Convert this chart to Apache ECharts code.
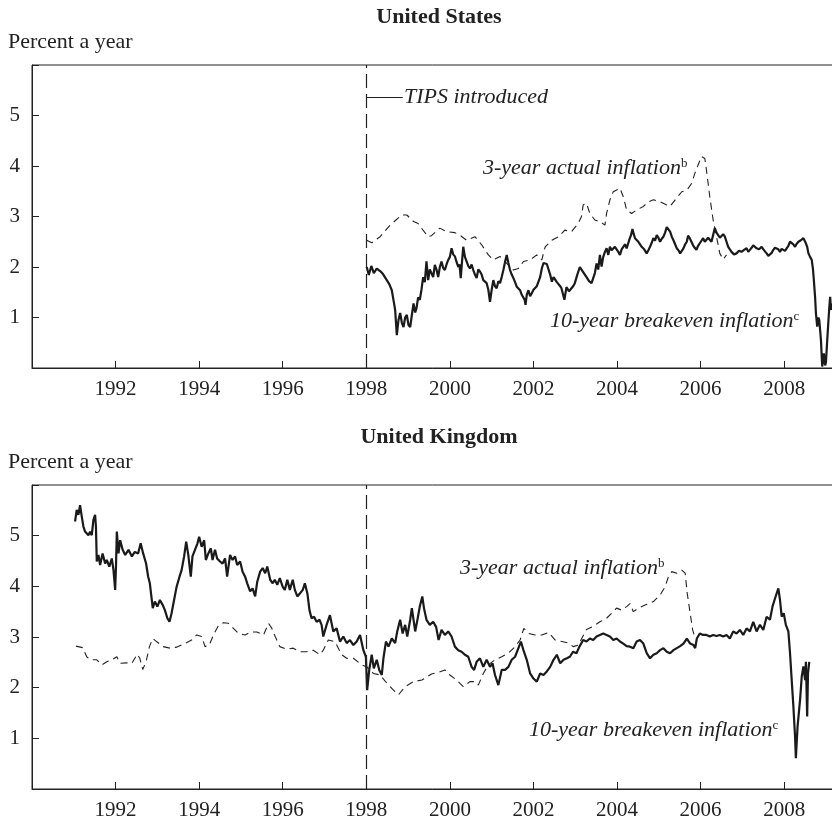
<!DOCTYPE html>
<html>
<head>
<meta charset="utf-8">
<script src="https://cdn.jsdelivr.net/npm/echarts@6/dist/echarts.min.js"></script>
<style>
    html, body { margin: 0; padding: 0; background: #fff; }
    #chart { width: 832px; height: 819px; }
</style>
</head>
<body>
<div id="chart"></div>
<script>
// tick labels
let tickYears = [1992, 1994, 1996, 1998, 2000, 2002, 2004, 2006, 2008];
let tickPercents = [1, 2, 3, 4, 5];
let tipsYear = 1998;

// United States, 10-year breakeven inflation (daily)
let usBreakeven = [
    [1998.01,2.00],[1998.06,1.84],[1998.12,2.02],[1998.18,1.88],[1998.25,1.97],[1998.33,1.92],[1998.40,1.86],
    [1998.49,1.74],[1998.55,1.66],[1998.61,1.54],[1998.66,1.30],[1998.69,1.15],[1998.73,0.65],[1998.77,0.95],
    [1998.81,1.09],[1998.85,0.90],[1998.89,0.81],[1998.93,1.00],[1998.97,1.05],[1999.01,0.85],[1999.05,0.81],
    [1999.09,1.05],[1999.13,1.28],[1999.17,1.10],[1999.20,1.18],[1999.24,1.40],[1999.28,1.35],[1999.32,1.55],
    [1999.36,1.80],[1999.40,1.70],[1999.44,2.11],[1999.48,1.74],[1999.52,1.95],[1999.56,1.94],[1999.60,1.80],
    [1999.64,2.04],[1999.68,1.95],[1999.72,1.80],[1999.76,2.00],[1999.80,2.11],[1999.84,1.98],[1999.88,1.94],
    [1999.92,2.05],[1999.96,2.14],[2000.00,2.20],[2000.04,2.37],[2000.08,2.25],[2000.12,2.21],[2000.16,2.10],
    [2000.20,2.00],[2000.23,2.05],[2000.26,1.78],[2000.29,2.10],[2000.32,2.40],[2000.36,2.20],[2000.40,2.11],
    [2000.44,2.02],[2000.48,1.97],[2000.52,2.05],[2000.56,1.94],[2000.60,1.85],[2000.64,1.78],[2000.68,1.95],
    [2000.72,1.91],[2000.76,1.85],[2000.80,1.74],[2000.84,1.75],[2000.88,1.68],[2000.92,1.55],[2000.96,1.31],
    [2001.00,1.55],[2001.04,1.74],[2001.08,1.62],[2001.12,1.58],[2001.16,1.72],[2001.20,1.68],[2001.24,1.80],
    [2001.28,1.94],[2001.32,2.10],[2001.36,2.24],[2001.40,2.08],[2001.44,1.94],[2001.48,1.85],[2001.52,1.78],
    [2001.56,1.70],[2001.60,1.61],[2001.64,1.58],[2001.68,1.54],[2001.72,1.45],[2001.76,1.48],[2001.79,1.35],
    [2001.81,1.25],[2001.84,1.45],[2001.88,1.54],[2001.92,1.42],[2001.96,1.48],[2002.00,1.55],[2002.04,1.58],
    [2002.08,1.62],[2002.12,1.64],[2002.16,1.80],[2002.20,1.97],[2002.24,2.08],[2002.28,2.11],[2002.32,2.06],
    [2002.36,2.04],[2002.40,1.85],[2002.44,1.71],[2002.48,1.80],[2002.52,1.78],[2002.56,1.70],[2002.60,1.68],
    [2002.64,1.62],[2002.67,1.58],[2002.71,1.45],[2002.74,1.35],[2002.79,1.60],[2002.85,1.52],[2002.91,1.58],
    [2002.95,1.62],[2002.99,1.68],[2003.05,1.85],[2003.11,2.00],[2003.15,1.95],[2003.19,1.90],[2003.23,1.85],
    [2003.27,1.80],[2003.33,1.72],[2003.39,1.68],[2003.43,1.71],[2003.47,1.88],[2003.51,2.07],[2003.55,1.95],
    [2003.59,2.24],[2003.63,2.01],[2003.67,2.20],[2003.71,2.30],[2003.75,2.37],[2003.79,2.24],[2003.83,2.40],
    [2003.87,2.33],[2003.91,2.30],[2003.95,2.40],[2003.99,2.37],[2004.03,2.30],[2004.07,2.24],[2004.11,2.35],
    [2004.15,2.40],[2004.19,2.45],[2004.23,2.37],[2004.29,2.53],[2004.33,2.62],[2004.37,2.75],[2004.40,2.65],
    [2004.43,2.57],[2004.47,2.55],[2004.51,2.50],[2004.55,2.45],[2004.59,2.40],[2004.65,2.35],[2004.71,2.27],
    [2004.75,2.33],[2004.79,2.40],[2004.83,2.48],[2004.87,2.57],[2004.91,2.52],[2004.95,2.63],[2004.99,2.58],
    [2005.03,2.50],[2005.07,2.56],[2005.11,2.60],[2005.15,2.68],[2005.19,2.79],[2005.23,2.76],[2005.27,2.70],
    [2005.31,2.60],[2005.35,2.53],[2005.39,2.45],[2005.43,2.37],[2005.47,2.33],[2005.51,2.27],[2005.55,2.32],
    [2005.59,2.37],[2005.63,2.45],[2005.67,2.50],[2005.70,2.62],[2005.74,2.57],[2005.78,2.50],[2005.82,2.43],
    [2005.86,2.38],[2005.90,2.34],[2005.94,2.42],[2005.98,2.47],[2006.02,2.52],[2006.06,2.57],[2006.10,2.50],
    [2006.14,2.53],[2006.18,2.58],[2006.22,2.60],[2006.26,2.50],[2006.29,2.53],[2006.34,2.77],[2006.38,2.68],
    [2006.42,2.63],[2006.46,2.58],[2006.50,2.60],[2006.54,2.65],[2006.58,2.60],[2006.62,2.50],[2006.66,2.40],
    [2006.70,2.35],[2006.74,2.30],[2006.80,2.25],[2006.86,2.27],[2006.92,2.32],[2006.98,2.30],[2007.04,2.34],
    [2007.10,2.37],[2007.14,2.30],[2007.18,2.34],[2007.22,2.38],[2007.26,2.43],[2007.30,2.40],[2007.34,2.37],
    [2007.40,2.35],[2007.46,2.40],[2007.52,2.33],[2007.58,2.27],[2007.62,2.22],[2007.66,2.20],[2007.70,2.28],
    [2007.74,2.34],[2007.78,2.38],[2007.82,2.40],[2007.86,2.35],[2007.90,2.30],[2007.94,2.36],[2007.98,2.37],
    [2008.02,2.32],[2008.06,2.30],[2008.10,2.42],[2008.14,2.50],[2008.18,2.53],[2008.22,2.45],[2008.26,2.40],
    [2008.30,2.46],[2008.34,2.50],[2008.40,2.53],[2008.46,2.57],[2008.52,2.47],[2008.55,2.40],[2008.58,2.27],
    [2008.62,2.20],[2008.66,2.14],[2008.69,1.95],[2008.71,1.74],[2008.74,1.40],[2008.76,1.08],[2008.79,0.82],
    [2008.82,1.00],[2008.84,0.95],[2008.86,0.75],[2008.88,0.55],[2008.90,0.20],[2008.91,0.03],[2008.93,0.15],
    [2008.95,0.29],[2008.98,0.05],[2009.00,0.12],[2009.03,0.55],[2009.06,0.95],[2009.08,1.20],[2009.10,1.41],
    [2009.12,1.15],[2009.14,1.28]
];

// United States, 3-year actual inflation
let usActual = [
    [1998.01,2.53],[1998.13,2.48],[1998.33,2.60],[1998.57,2.83],[1998.85,3.03],[1998.97,3.03],[1999.13,2.90],
    [1999.24,2.86],[1999.32,2.77],[1999.48,2.60],[1999.56,2.62],[1999.76,2.77],[1999.92,2.70],[2000.12,2.68],
    [2000.24,2.63],[2000.40,2.53],[2000.60,2.60],[2000.76,2.44],[2000.92,2.24],[2001.04,2.14],[2001.20,2.21],
    [2001.36,2.07],[2001.52,1.94],[2001.64,1.97],[2001.76,2.11],[2001.92,2.14],[2002.08,2.24],[2002.20,2.14],
    [2002.28,2.40],[2002.44,2.53],[2002.60,2.60],[2002.75,2.73],[2002.91,2.70],[2003.07,2.86],[2003.15,3.00],
    [2003.19,3.23],[2003.27,3.26],[2003.35,3.06],[2003.47,2.93],[2003.59,2.90],[2003.71,2.83],[2003.75,3.06],
    [2003.83,3.33],[2003.91,3.49],[2004.07,3.56],[2004.15,3.39],[2004.23,3.13],[2004.35,3.06],[2004.47,3.13],
    [2004.63,3.20],[2004.75,3.29],[2004.87,3.33],[2005.03,3.29],[2005.19,3.23],[2005.27,3.20],[2005.39,3.33],
    [2005.55,3.49],[2005.67,3.52],[2005.79,3.66],[2005.86,3.85],[2005.94,4.02],[2006.02,4.19],[2006.10,4.15],
    [2006.14,3.92],[2006.22,3.39],[2006.30,2.93],[2006.38,2.60],[2006.46,2.27],[2006.54,2.15],[2006.62,2.24]
];

// United Kingdom, 10-year breakeven inflation
let ukBreakeven = [
    [1991.03,5.28],[1991.07,5.51],[1991.11,5.41],[1991.15,5.60],[1991.19,5.38],[1991.23,5.18],[1991.27,5.08],
    [1991.31,5.11],[1991.35,5.01],[1991.39,5.08],[1991.43,5.01],[1991.47,5.31],[1991.51,5.41],[1991.53,5.18],
    [1991.55,4.49],[1991.59,4.62],[1991.63,4.42],[1991.69,4.65],[1991.75,4.45],[1991.79,4.52],[1991.85,4.39],
    [1991.91,4.55],[1991.95,4.32],[1991.99,3.93],[1992.01,4.39],[1992.03,5.08],[1992.07,4.65],[1992.11,4.91],
    [1992.17,4.72],[1992.23,4.62],[1992.31,4.72],[1992.39,4.59],[1992.46,4.68],[1992.54,4.65],[1992.60,4.85],
    [1992.66,4.65],[1992.73,4.45],[1992.78,4.19],[1992.82,4.06],[1992.89,3.57],[1992.94,3.70],[1993.00,3.60],
    [1993.06,3.73],[1993.13,3.63],[1993.18,3.53],[1993.24,3.37],[1993.29,3.30],[1993.34,3.47],[1993.40,3.73],
    [1993.46,3.99],[1993.53,4.19],[1993.58,4.32],[1993.64,4.59],[1993.69,4.88],[1993.74,4.62],[1993.80,4.19],
    [1993.84,4.59],[1993.90,4.72],[1993.96,4.85],[1994.00,4.98],[1994.06,4.78],[1994.12,4.91],[1994.16,4.52],
    [1994.22,4.65],[1994.28,4.75],[1994.32,4.52],[1994.38,4.72],[1994.43,4.55],[1994.50,4.49],[1994.56,4.45],
    [1994.62,4.55],[1994.67,4.19],[1994.74,4.62],[1994.80,4.52],[1994.86,4.59],[1994.91,4.42],[1994.98,4.49],
    [1995.04,4.29],[1995.10,4.19],[1995.15,4.06],[1995.22,3.90],[1995.28,3.96],[1995.34,3.80],[1995.39,4.09],
    [1995.46,4.29],[1995.52,4.36],[1995.58,4.26],[1995.63,4.39],[1995.70,4.13],[1995.76,4.06],[1995.81,4.13],
    [1995.87,4.03],[1995.93,4.16],[1996.00,3.99],[1996.05,3.93],[1996.11,4.13],[1996.17,3.93],[1996.24,4.13],
    [1996.29,3.93],[1996.35,3.80],[1996.41,3.86],[1996.48,3.93],[1996.53,4.06],[1996.59,3.86],[1996.64,3.53],
    [1996.69,3.37],[1996.75,3.40],[1996.81,3.30],[1996.88,3.34],[1996.93,3.24],[1996.97,3.01],[1997.05,3.24],
    [1997.13,3.43],[1997.21,3.11],[1997.29,3.17],[1997.37,2.91],[1997.45,3.01],[1997.53,2.88],[1997.61,2.94],
    [1997.69,2.84],[1997.77,2.91],[1997.85,3.04],[1997.93,2.74],[1997.99,2.61],[1998.02,1.95],[1998.07,2.35],
    [1998.13,2.65],[1998.18,2.38],[1998.25,2.55],[1998.31,2.35],[1998.37,2.25],[1998.41,2.58],[1998.47,2.91],
    [1998.53,2.81],[1998.61,2.97],[1998.69,2.88],[1998.74,3.11],[1998.81,3.34],[1998.87,3.07],[1998.93,3.24],
    [1998.98,3.01],[1999.05,3.34],[1999.09,3.57],[1999.17,3.11],[1999.23,3.37],[1999.28,3.60],[1999.34,3.80],
    [1999.38,3.57],[1999.44,3.34],[1999.52,3.24],[1999.60,3.30],[1999.67,3.20],[1999.73,2.94],[1999.80,3.14],
    [1999.88,3.04],[1999.96,3.11],[2000.04,3.01],[2000.12,2.81],[2000.20,2.74],[2000.28,2.71],[2000.36,2.65],
    [2000.44,2.61],[2000.52,2.41],[2000.58,2.35],[2000.64,2.51],[2000.72,2.58],[2000.80,2.41],[2000.88,2.55],
    [2000.96,2.41],[2001.02,2.48],[2001.08,2.25],[2001.16,2.05],[2001.24,2.35],[2001.32,2.35],[2001.40,2.41],
    [2001.48,2.55],[2001.56,2.61],[2001.64,2.78],[2001.70,2.91],[2001.76,2.74],[2001.84,2.55],[2001.92,2.28],
    [2002.00,2.18],[2002.08,2.12],[2002.16,2.28],[2002.24,2.25],[2002.32,2.32],[2002.40,2.41],[2002.48,2.55],
    [2002.56,2.65],[2002.64,2.48],[2002.72,2.55],[2002.80,2.58],[2002.87,2.61],[2002.95,2.71],[2003.03,2.68],
    [2003.10,2.81],[2003.19,2.94],[2003.27,2.91],[2003.35,2.97],[2003.43,2.94],[2003.51,3.01],[2003.59,3.04],
    [2003.67,3.07],[2003.75,3.04],[2003.83,3.01],[2003.91,2.94],[2003.99,2.97],[2004.07,2.91],[2004.15,2.87],
    [2004.23,2.82],[2004.31,2.81],[2004.39,2.78],[2004.47,2.91],[2004.55,2.94],[2004.63,2.87],[2004.71,2.68],
    [2004.79,2.58],[2004.87,2.65],[2004.95,2.68],[2005.03,2.74],[2005.11,2.78],[2005.19,2.71],[2005.27,2.68],
    [2005.35,2.74],[2005.43,2.78],[2005.51,2.82],[2005.59,2.87],[2005.67,2.97],[2005.75,2.87],[2005.83,2.84],
    [2005.87,2.78],[2005.91,2.97],[2005.98,3.07],[2006.06,3.04],[2006.14,3.04],[2006.22,3.01],[2006.30,3.04],
    [2006.38,3.02],[2006.46,3.04],[2006.54,3.01],[2006.62,3.04],[2006.70,2.97],[2006.78,3.11],[2006.86,3.07],
    [2006.94,3.14],[2007.02,3.04],[2007.10,3.17],[2007.18,3.11],[2007.26,3.30],[2007.34,3.11],[2007.42,3.24],
    [2007.50,3.14],[2007.58,3.40],[2007.66,3.34],[2007.72,3.60],[2007.78,3.76],[2007.86,3.96],[2007.90,3.73],
    [2007.94,3.40],[2007.99,3.47],[2008.04,3.24],[2008.10,3.11],[2008.14,2.68],[2008.18,2.15],[2008.22,1.63],
    [2008.26,1.03],[2008.28,0.61],[2008.32,1.23],[2008.38,1.76],[2008.42,2.22],[2008.46,2.42],[2008.50,2.15],
    [2008.52,2.51],[2008.55,1.43],[2008.57,2.28],[2008.60,2.51]
];

// United Kingdom, 3-year actual inflation
let ukActual = [
    [1991.05,2.82],[1991.21,2.79],[1991.31,2.61],[1991.40,2.55],[1991.55,2.55],[1991.67,2.45],[1991.79,2.51],
    [1991.91,2.55],[1992.03,2.61],[1992.11,2.48],[1992.27,2.49],[1992.39,2.48],[1992.52,2.66],[1992.58,2.58],
    [1992.65,2.36],[1992.73,2.51],[1992.81,2.81],[1992.89,2.97],[1992.98,2.91],[1993.14,2.81],[1993.30,2.78],
    [1993.46,2.80],[1993.66,2.87],[1993.82,2.94],[1993.94,3.04],[1994.06,3.01],[1994.14,2.81],[1994.24,2.84],
    [1994.36,3.07],[1994.46,3.22],[1994.58,3.28],[1994.70,3.27],[1994.82,3.17],[1994.94,3.07],[1995.10,3.04],
    [1995.23,3.10],[1995.38,3.10],[1995.54,3.04],[1995.66,3.27],[1995.74,3.17],[1995.82,3.01],[1995.93,2.81],
    [1996.09,2.76],[1996.25,2.78],[1996.41,2.71],[1996.57,2.71],[1996.73,2.74],[1996.89,2.65],[1996.97,2.74],
    [1997.09,2.94],[1997.25,2.91],[1997.41,2.65],[1997.53,2.58],[1997.69,2.58],[1997.89,2.45],[1998.01,2.41],
    [1998.17,2.28],[1998.33,2.25],[1998.49,2.09],[1998.65,1.95],[1998.77,1.86],[1998.93,2.02],[1999.13,2.12],
    [1999.33,2.15],[1999.56,2.27],[1999.72,2.30],[1999.88,2.35],[2000.00,2.25],[2000.16,2.15],[2000.32,2.02],
    [2000.48,2.12],[2000.60,2.12],[2000.68,2.05],[2000.80,2.28],[2000.92,2.45],[2001.08,2.55],[2001.24,2.61],
    [2001.40,2.68],[2001.56,2.81],[2001.68,2.94],[2001.77,3.17],[2001.88,3.07],[2002.04,3.04],[2002.20,3.04],
    [2002.36,3.09],[2002.52,2.94],[2002.68,2.91],[2002.84,2.88],[2002.95,2.81],[2003.07,2.84],[2003.27,3.15],
    [2003.43,3.21],[2003.59,3.30],[2003.75,3.37],[2003.87,3.47],[2003.99,3.57],[2004.11,3.53],[2004.23,3.60],
    [2004.31,3.66],[2004.39,3.50],[2004.51,3.57],[2004.67,3.63],[2004.87,3.70],[2005.03,3.83],[2005.15,3.99],
    [2005.23,4.19],[2005.31,4.29],[2005.43,4.26],[2005.55,4.32],[2005.63,4.26],[2005.68,3.86],[2005.75,3.47],
    [2005.81,3.14],[2005.87,2.97]
];

let serif = '"Liberation Serif", "DejaVu Serif", serif';
let ink = '#222';

let make_axes = function (gridIndex) {
    let xAxis = {
        type: 'value',
        gridIndex: gridIndex,
        min: 1990,
        max: 2009.24,
        interval: 2,
        axisLine: {lineStyle: {color: ink, width: 1}},
        axisTick: {inside: true, length: 7, lineStyle: {color: ink}},
        splitLine: {show: false},
        axisLabel: {
            showMinLabel: false,
            margin: 11,
            fontFamily: serif,
            fontSize: 21,
            color: ink,
            formatter: function (v) {
                return tickYears.indexOf(v) >= 0 ? String(v) : '';
            }
        }
    };
    let yAxis = {
        type: 'value',
        gridIndex: gridIndex,
        min: 0,
        max: 6,
        interval: 1,
        axisLine: {show: true, lineStyle: {color: ink, width: 1}},
        axisTick: {show: true, inside: true, length: 7, lineStyle: {color: ink}},
        splitLine: {show: false},
        axisLabel: {
            margin: 12,
            fontFamily: serif,
            fontSize: 21,
            color: ink,
            formatter: function (v) {
                return tickPercents.indexOf(v) >= 0 ? String(v) : '';
            }
        }
    };
    return [xAxis, yAxis];
};

let tipsLine = function (withLeader) {
    let data = [{xAxis: tipsYear}];
    if (withLeader) {
        data.push([
            {coord: [tipsYear, 5.37], lineStyle: {type: 'solid', width: 1, color: ink}},
            {coord: [1998.87, 5.37]}
        ]);
    }
    return {
        silent: true,
        symbol: ['none', 'none'],
        label: {show: false},
        lineStyle: {type: [14, 6], width: 1.2, color: ink},
        emphasis: {disabled: true},
        data: data
    };
};

let solid = function (name, idx, data) {
    return {
        name: name, type: 'line', xAxisIndex: idx, yAxisIndex: idx,
        data: data, showSymbol: false, silent: true,
        lineStyle: {color: '#1a1a1a', width: 2.2}
    };
};

let dashed = function (name, idx, data) {
    return {
        name: name, type: 'line', xAxisIndex: idx, yAxisIndex: idx,
        data: data, showSymbol: false, silent: true,
        lineStyle: {color: ink, width: 1.1, type: [7, 5]},
        markLine: tipsLine(idx === 0)
    };
};

let label = function (x, y, main, sup) {
    return {
        type: 'text', x: x, y: y, silent: true,
        style: {
            text: '{m|' + main + '}{s|' + sup + '}',
            verticalAlign: 'middle',
            rich: {
                m: {font: 'italic 22px ' + serif, fill: ink},
                s: {font: '13px ' + serif, fill: ink, verticalAlign: 'top'}
            }
        }
    };
};

let plain = function (x, y, text, font, align) {
    return {
        type: 'text', x: x, y: y, silent: true,
        style: {text: text, font: font, fill: ink, align: align, verticalAlign: 'middle'}
    };
};

let usAxes = make_axes(0);
let ukAxes = make_axes(1);

let chart = echarts.init(document.getElementById('chart'));
let option = {
    animation: false,
    backgroundColor: '#fff',
    grid: [
        {left: 32, right: -4, top: 65, height: 303, show: true, borderColor: ink, borderWidth: 1,
            outerBoundsMode: 'none', containLabel: false},
        {left: 32, right: -4, top: 485, height: 304, show: true, borderColor: ink, borderWidth: 1,
            outerBoundsMode: 'none', containLabel: false}
    ],
    xAxis: [usAxes[0], ukAxes[0]],
    yAxis: [usAxes[1], ukAxes[1]],
    series: [
        dashed('us actual', 0, usActual),
        solid('us breakeven', 0, usBreakeven),
        dashed('uk actual', 1, ukActual),
        solid('uk breakeven', 1, ukBreakeven)
    ],
    graphic: [
        plain(439, 17, 'United States', 'bold 22px ' + serif, 'center'),
        plain(8, 42, 'Percent a year', '22px ' + serif, 'left'),
        plain(439, 437, 'United Kingdom', 'bold 22px ' + serif, 'center'),
        plain(8, 462, 'Percent a year', '22px ' + serif, 'left'),
        plain(404, 97, 'TIPS introduced', 'italic 22px ' + serif, 'left'),
        label(483, 168, '3-year actual inflation', 'b'),
        label(550, 321, '10-year breakeven inflation', 'c'),
        label(460, 568, '3-year actual inflation', 'b'),
        label(529, 730, '10-year breakeven inflation', 'c')
    ]
};
chart.setOption(option, true);
</script>
</body>
</html>
